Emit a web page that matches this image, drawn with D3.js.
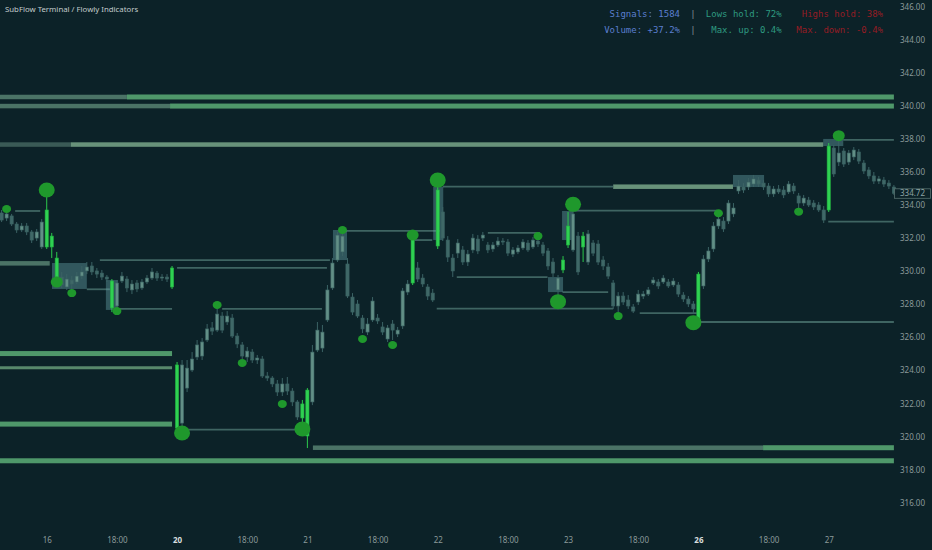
<!DOCTYPE html>
<html>
<head>
<meta charset="utf-8">
<script src="https://cdn.jsdelivr.net/npm/d3@7"></script>
<style>
  html, body { margin: 0; padding: 0; background: #0c2228; }
  svg { display: block; }
</style>
</head>
<body>
<svg id="chart" width="932" height="550"></svg>
<script>
// 30-min-ish bars, [open, high, low, close]
const candles = [
  [333.53,333.71,332.98,333.10],[333.22,333.77,333.04,333.47],[333.35,333.47,332.74,332.86],[332.86,332.98,332.32,332.50],
  [332.50,332.92,332.38,332.74],[332.74,332.92,332.19,332.38],[332.38,332.50,331.71,331.89],[332.01,332.56,331.83,332.38],
  [331.47,333.16,331.35,332.98],[331.47,334.74,331.35,333.71],[332.13,332.32,330.80,331.47],[330.80,331.17,329.35,329.65],
  [329.65,329.96,328.99,329.17],[329.05,329.83,328.87,329.53],[329.47,329.71,328.74,329.23],[329.35,329.96,329.23,329.71],
  [329.71,330.32,329.53,329.96],[330.02,330.56,329.83,330.26],[330.32,330.56,329.77,329.96],[330.02,330.20,329.59,329.83],
  [329.89,330.08,329.47,329.65],[329.65,329.77,329.35,329.53],[329.41,329.53,327.53,327.78],[327.90,329.47,327.66,329.29],
  [329.41,329.96,329.29,329.71],[329.53,329.71,328.74,328.99],[328.87,329.47,328.62,329.23],[329.29,329.47,328.74,328.93],
  [328.99,329.53,328.87,329.35],[329.35,329.77,329.23,329.59],[329.59,330.20,329.47,329.96],[329.89,330.02,329.41,329.59],
  [329.59,329.83,329.41,329.65],[329.65,329.83,329.35,329.53],[329.05,330.32,328.93,330.20],
  // 20
  [324.33,324.51,320.27,320.51],[320.81,324.63,320.51,324.33],[322.93,324.63,322.69,324.14],[324.02,325.11,323.90,324.69],
  [324.81,325.84,324.63,325.54],[324.87,325.96,324.63,325.72],[325.84,326.81,325.72,326.51],[326.57,326.93,326.14,326.38],
  [326.44,327.78,326.32,327.41],[327.29,327.53,326.26,326.44],[326.93,327.59,326.75,327.29],[327.17,327.41,325.96,326.08],
  [326.08,326.26,325.35,325.60],[325.54,325.72,324.69,324.87],[324.81,325.42,324.51,325.17],[325.11,325.29,324.45,324.63],
  [324.63,324.93,324.39,324.75],[324.69,324.87,323.54,323.66],[323.66,323.90,323.36,323.54],[323.54,323.66,322.99,323.18],
  [323.18,323.42,322.45,322.69],[322.69,323.54,322.45,323.18],[323.18,323.60,322.51,322.75],[322.75,322.93,321.84,322.09],
  [322.09,322.21,321.00,321.18],[321.12,322.21,320.69,321.97],
  // 21
  [320.03,322.93,319.30,322.81],[322.09,325.54,321.90,325.11],[325.23,326.93,325.11,326.44],[325.35,326.75,325.11,326.32],
  [327.05,329.17,326.93,328.87],[328.99,330.80,328.87,330.50],[330.68,332.38,330.56,332.19],[331.17,332.50,330.92,332.13],
  [330.44,330.80,328.38,328.50],[328.44,328.68,327.35,327.53],[328.02,328.26,327.17,327.29],[327.17,327.35,326.26,326.51],
  [326.32,327.17,326.14,326.81],[327.05,328.44,326.93,328.20],[327.17,327.41,326.81,326.99],[326.63,326.93,326.14,326.32],
  [325.90,326.75,325.72,326.57],[326.81,327.05,325.84,326.44],[326.20,326.63,326.02,326.44],[326.69,328.99,326.51,328.81],
  [328.74,329.47,328.56,329.23],[329.29,332.26,329.17,332.13],[330.20,330.56,329.35,329.53],[329.59,329.83,329.05,329.23],
  [329.05,329.23,328.26,328.50],[328.68,328.93,328.14,328.26],
  // 22
  [331.53,335.40,331.35,334.92],[333.59,333.89,331.83,332.01],[331.89,332.13,330.56,330.86],[330.80,331.04,329.65,330.02],
  [331.10,331.95,330.80,331.71],[331.29,331.53,330.38,330.56],[330.56,331.29,330.32,331.04],[331.29,332.26,331.10,332.01],
  [331.95,332.19,331.04,331.23],[332.01,332.38,331.83,332.19],[331.59,331.77,331.10,331.29],[331.35,331.77,331.17,331.59],
  [331.59,332.07,331.47,331.83],[331.83,332.01,331.59,331.77],[331.77,331.95,330.92,331.10],[331.04,331.47,330.86,331.29],
  [331.17,331.59,331.04,331.41],[331.41,331.95,331.29,331.77],[331.71,331.89,331.17,331.29],[331.47,332.07,331.35,331.89],
  [331.83,332.01,331.47,331.65],[331.59,331.77,330.92,331.10],[331.23,331.41,330.08,330.32],[330.56,330.80,329.65,329.89],
  [328.87,329.77,328.50,329.59],[330.08,330.92,329.89,330.68],
  // 23
  [331.59,333.59,331.41,332.74],[331.29,333.83,331.17,333.47],[332.13,332.38,329.77,329.96],[331.47,332.38,330.56,332.13],
  [330.56,332.50,330.38,332.26],[331.71,331.89,330.92,331.10],[331.65,331.89,330.38,330.56],[330.68,330.92,330.08,330.32],
  [330.26,330.50,329.53,329.71],[329.29,329.47,327.72,327.90],[327.90,328.74,327.53,328.50],[328.50,328.74,327.96,328.14],
  [328.26,328.56,327.72,327.90],[327.84,328.02,327.47,327.59],[328.14,328.87,327.96,328.62],[328.50,328.81,328.32,328.62],
  [328.62,329.05,328.50,328.87],[329.29,329.65,329.17,329.47],[329.35,329.53,328.93,329.11],[329.35,329.77,329.23,329.59],
  [329.35,329.53,328.99,329.11],[329.17,329.59,329.05,329.41],[329.17,329.35,328.44,328.62],[328.56,328.74,328.14,328.32],
  [328.32,328.50,327.84,328.02],[328.02,328.20,327.41,327.72],
  // 26
  [327.05,329.96,326.87,329.83],[329.11,330.98,328.93,330.74],[330.74,331.47,330.56,331.23],[331.35,332.98,331.17,332.74],
  [332.74,333.47,332.56,333.16],[333.04,333.28,332.38,332.56],[333.04,334.31,332.86,334.13],[333.47,334.13,333.28,333.83],
  [334.86,335.52,334.68,335.16],[335.10,335.34,334.74,334.92],[335.10,335.65,334.92,335.40],[335.28,335.83,335.10,335.59],
  [335.52,335.71,335.10,335.28],[335.34,335.52,334.92,335.10],[335.16,335.34,334.50,334.68],[334.68,335.16,334.50,334.98],
  [334.98,335.22,334.68,334.80],[334.92,335.16,334.43,334.62],[334.80,335.46,334.68,335.28],[335.16,335.34,334.68,334.86],
  [334.56,334.74,333.83,334.13],[334.13,334.62,333.95,334.43],[334.31,334.50,333.89,334.01],[334.13,334.31,333.71,333.89],
  [334.01,334.19,333.59,333.71],[333.71,333.95,332.92,333.10],
  // 27
  [333.71,337.76,333.59,337.58],[337.46,337.64,335.71,335.89],[336.61,337.95,336.37,337.16],[337.28,337.46,336.31,336.49],
  [336.61,337.34,336.43,337.16],[336.92,337.52,336.73,337.34],[337.22,337.40,336.49,336.67],[336.55,336.73,335.89,336.07],
  [336.13,336.31,335.59,335.77],[335.77,336.01,335.28,335.46],[335.46,335.77,335.28,335.59],[335.52,335.71,335.10,335.28],
  [335.34,335.52,334.98,335.16],[335.10,335.22,334.62,334.72]
];

// bars flagged by the volume filter
const hotBars = [9, 10, 11, 22, 34, 35, 60, 61, 82, 87, 112, 113, 116, 139, 165];

// liquidity levels: [price, fromBar, toBar, state]
const levelBands = [
  [340.55, -0.5, 25, "aged"], [340.55, 25, 178, "fresh"],
  [340.00, -0.5, 33.6, "aged"], [340.00, 33.6, 178, "fresh"],
  [337.67, -0.5, 13.8, "old"], [337.67, 13.8, 163.9, "pale"],
  [335.12, 122, 145.9, "pale"],
  [330.48, -0.5, 9.6, "aged"],
  [325.02, -0.5, 34, "fresh"],
  [324.16, -0.5, 34, "minor"],
  [320.75, -0.5, 34, "fresh"],
  [319.32, 62.1, 151.9, "aged"], [319.32, 151.9, 178, "fresh"],
  [318.53, -0.5, 178, "fresh"]
];

// thin zone edges: [price, fromBar, toBar]
const zoneLines = [
  [337.95, 167.9, 178], [333.00, 164.9, 178], [326.93, 139.3, 178],
  [333.67, 114.0, 142.7], [335.12, 88.0, 122.0], [332.44, 68.5, 87.4],
  [331.89, 82.4, 85.9], [329.65, 90.8, 108.9], [328.74, 111.9, 121.0],
  [332.32, 97.0, 107.4], [327.47, 127.3, 138.7], [327.74, 86.8, 122.0],
  [327.72, 44.0, 63.9], [330.21, 35.0, 64.9], [330.68, 19.6, 65.5],
  [328.91, 17.0, 21.6], [327.72, 23.2, 34.0], [333.65, 2.7, 7.7],
  [320.42, 35.8, 59.5]
];

// absorption boxes: [fromBar, toBar, top, bottom]
const zoneBoxes = [
  [10.05, 17.0, 330.50, 328.93], [20.8, 23.2, 329.47, 327.66],
  [66.1, 68.9, 332.50, 330.68], [86.1, 88.1, 335.10, 331.89],
  [109.0, 112.0, 329.65, 328.74], [111.8, 114.0, 333.65, 331.89],
  [145.9, 152.1, 335.83, 335.10], [163.9, 167.9, 338.01, 337.58]
];

// signal dots: [bar, price, strength]
const signals = [
  [9, 334.92, "big"], [11, 329.35, "mid"], [14, 328.68, "small"], [23, 327.59, "small"],
  [1, 333.77, "small"], [43, 327.96, "small"], [48, 324.45, "small"], [56, 321.97, "small"],
  [36, 320.21, "big"], [60, 320.45, "big"], [68, 332.50, "small"], [72, 325.90, "small"],
  [78, 325.54, "small"], [82, 332.19, "mid"], [87, 335.52, "big"], [107, 332.13, "small"],
  [114, 334.05, "big"], [111, 328.16, "big"], [123, 327.29, "small"], [138, 326.89, "big"],
  [143, 333.51, "small"], [159, 333.61, "small"], [167, 338.21, "mid"]
];

const priceTicks = [316, 318, 320, 322, 324, 326, 328, 330, 332, 334, 336, 338, 340, 342, 344, 346];
const timeTicks = [
  [9, "16", false], [23, "18:00", false], [35, "20", true], [49, "18:00", false],
  [61, "21", false], [75, "18:00", false], [87, "22", false], [101, "18:00", false],
  [113, "23", false], [127, "18:00", false], [139, "26", true], [153, "18:00", false],
  [165, "27", false]
];
const lastPrice = 334.72;

const statsRow1 = ["Signals: 1584", "Lows hold: 72%", "Highs hold: 38%"];
const statsRow2 = ["Volume: +37.2%", "Max. up: 0.4%", "Max. down: -0.4%"];

const svg = d3.select("#chart");
const width = +svg.attr("width");
const height = +svg.attr("height");
const plotRight = 896;

svg.append("rect").attr("width", width).attr("height", height).attr("fill", "#0c2228");

const x = d3.scaleLinear().domain([-0.5, 178.5]).range([-0.9, 896.4]);
const y = d3.scaleLinear().domain([314.34, 346.42]).range([530, 0]);

svg.append("clipPath").attr("id", "plot")
  .append("rect").attr("width", plotRight).attr("height", height);
const g = svg.append("g").attr("clip-path", "url(#plot)");

// bands
const bandColor = { fresh: "#4f986a", aged: "#4b7366", old: "#3a5a56", pale: "#68927a", minor: "#58896c" };
const bandSize = { fresh: 5, aged: 4.5, old: 4.5, pale: 4.5, minor: 3 };
g.append("g").selectAll("rect")
  .data(levelBands)
  .join("rect")
  .attr("x", (d) => x(d[1]))
  .attr("width", (d) => x(d[2]) - x(d[1]))
  .attr("y", (d) => y(d[0]) - bandSize[d[3]] / 2)
  .attr("height", (d) => bandSize[d[3]])
  .attr("fill", (d) => bandColor[d[3]]);

// zone lines
g.append("g").selectAll("line")
  .data(zoneLines)
  .join("line")
  .attr("x1", (d) => x(d[1]))
  .attr("x2", (d) => x(d[2]))
  .attr("y1", (d) => y(d[0]))
  .attr("y2", (d) => y(d[0]))
  .attr("stroke", "#3f6562")
  .attr("stroke-width", 1.8);

// boxes
g.append("g").selectAll("rect")
  .data(zoneBoxes)
  .join("rect")
  .attr("x", (d) => x(d[0]))
  .attr("width", (d) => x(d[1]) - x(d[0]))
  .attr("y", (d) => y(d[2]))
  .attr("height", (d) => y(d[3]) - y(d[2]))
  .attr("fill", "#68a8ad")
  .attr("fill-opacity", 0.4);

// candles
const hot = new Set(hotBars);
const bars = g.append("g").selectAll("g")
  .data(candles)
  .join("g");

bars.append("line")
  .attr("x1", (d, i) => x(i))
  .attr("x2", (d, i) => x(i))
  .attr("y1", (d) => y(d[1]))
  .attr("y2", (d) => y(d[2]))
  .attr("stroke", (d, i) => (hot.has(i) ? "#2cc94c" : "#3b6264"))
  .attr("stroke-width", 1);

bars.append("rect")
  .attr("x", (d, i) => x(i) - 1.6)
  .attr("width", 3.2)
  .attr("y", (d) => y(Math.max(d[0], d[3])))
  .attr("height", (d) => Math.max(1, Math.abs(y(d[0]) - y(d[3]))))
  .attr("fill", (d, i) => (hot.has(i) ? "#2fd152" : d[3] >= d[0] ? "#628f86" : "#3f6867"))
  .attr("stroke", (d, i) => (hot.has(i) ? "#22b140" : "#3a6262"))
  .attr("stroke-width", 0.6);

// signal dots
const dotR = { big: [8, 7.5], mid: [6, 5.5], small: [4.5, 4] };
g.append("g").selectAll("ellipse")
  .data(signals)
  .join("ellipse")
  .attr("cx", (d) => x(d[0]))
  .attr("cy", (d) => y(d[1]))
  .attr("rx", (d) => dotR[d[2]][0])
  .attr("ry", (d) => dotR[d[2]][1])
  .attr("fill", "#1f982c");

// price axis
const yAxis = svg.append("g")
  .attr("transform", `translate(900,0)`)
  .call(d3.axisRight(y).tickValues(priceTicks).tickFormat(d3.format(".2f")).tickSize(0).tickPadding(0));
yAxis.select(".domain").remove();
yAxis.selectAll("text")
  .attr("fill", "#8b9a9a")
  .attr("font-family", "'Noto Sans', sans-serif")
  .attr("font-size", 8);

// last price tag
const lastY = y(lastPrice);
svg.append("rect")
  .attr("x", 894.5).attr("y", lastY - 4.5)
  .attr("width", 36).attr("height", 9.5)
  .attr("fill", "#0c2228")
  .attr("stroke", "#56706f")
  .attr("stroke-width", 0.8);
svg.append("text")
  .attr("x", 912.5).attr("y", lastY + 3)
  .attr("text-anchor", "middle")
  .attr("fill", "#8fa5a5")
  .attr("font-family", "'Noto Sans', sans-serif")
  .attr("font-size", 8)
  .text(d3.format(".2f")(lastPrice));

// time axis
const xAxis = svg.append("g")
  .attr("transform", "translate(0,537)")
  .call(d3.axisBottom(x)
    .tickValues(timeTicks.map((d) => d[0]))
    .tickFormat((v) => timeTicks.find((d) => d[0] === v)[1])
    .tickSize(0).tickPadding(0));
xAxis.select(".domain").remove();
xAxis.selectAll("text")
  .data(timeTicks)
  .attr("fill", (d) => (d[2] ? "#d7dede" : "#8b9a9a"))
  .attr("font-weight", (d) => (d[2] ? "bold" : "normal"))
  .attr("font-family", "'Noto Sans', sans-serif")
  .attr("font-size", 8);

// title
svg.append("text")
  .attr("x", 5).attr("y", 11.5)
  .attr("fill", "#c3cccc")
  .attr("font-family", "'Noto Sans', sans-serif")
  .attr("font-size", 7.8)
  .text("SubFlow Terminal / Flowly Indicators");

// stats panel
const statCols = [
  { x: 680, color: "#5b7fd0" },
  { x: 781.7, color: "#2e9a80" },
  { x: 883, color: "#961c24" }
];
[[statsRow1, 16.5], [statsRow2, 32.5]].forEach(([row, base]) => {
  row.forEach((label, k) => {
    svg.append("text")
      .attr("x", statCols[k].x).attr("y", base)
      .attr("text-anchor", "end")
      .attr("fill", statCols[k].color)
      .attr("font-family", "'DejaVu Sans Mono', monospace")
      .attr("font-size", 9)
      .text(label);
  });
  svg.append("text")
    .attr("x", 693).attr("y", base)
    .attr("text-anchor", "middle")
    .attr("fill", "#7f8f8f")
    .attr("font-family", "'DejaVu Sans Mono', monospace")
    .attr("font-size", 9)
    .text("|");
});
</script>
</body>
</html>
